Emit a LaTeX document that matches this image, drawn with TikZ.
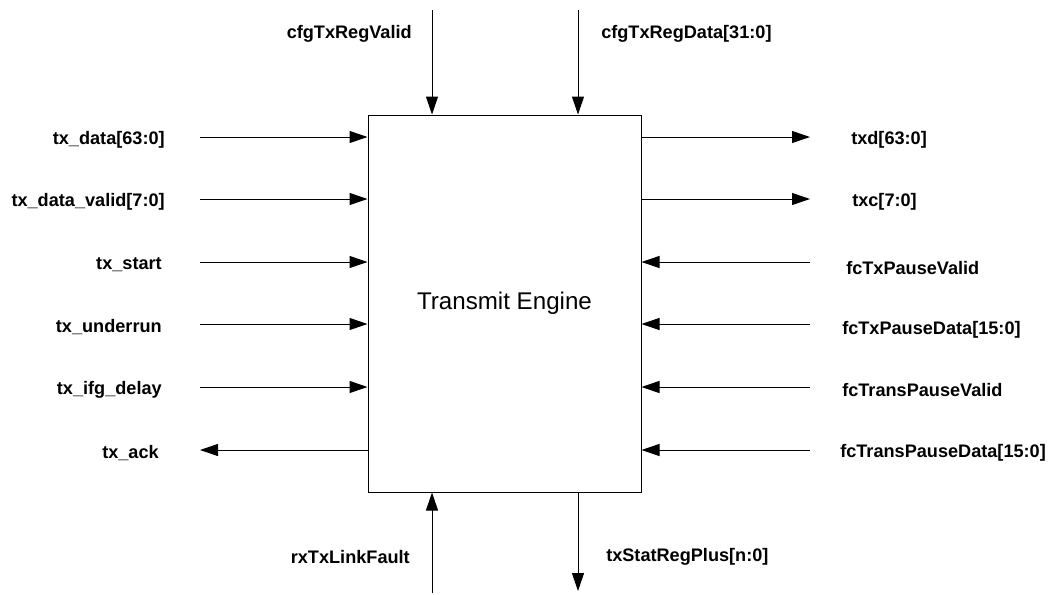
\documentclass[tikz,border=0pt]{standalone}
\usepackage{fontspec}
\setmainfont{Liberation Sans}
\usetikzlibrary{arrows.meta}

\begin{document}
\begin{tikzpicture}[x=0.75pt,y=0.75pt,yscale=-1,xscale=1,
  sig/.style={line width=0.75pt, -{Triangle[length=13.5pt,width=9pt]}},
  lbl/.style={font=\fontsize{13.6}{16}\selectfont\bfseries, inner sep=0.75pt}]
\useasboundingbox (0,0) rectangle (1054,594);

%Shape: Rectangle [id:engine] 
\node (eng) [draw, line width=0.75pt, minimum width=204.75pt, minimum height=282.75pt, inner sep=0pt, font=\fontsize{18.1}{21}\selectfont] at (504.5,303.5) {Transmit Engine};

%Straight Lines [id:left side] 
\coordinate (inData) at (200,137);
\coordinate (inValid) at (200,199);
\coordinate (inStart) at (200,262);
\coordinate (inUnder) at (200,324);
\coordinate (inIfg) at (200,387);
\coordinate (outAck) at (200,450);
\draw [sig] (inData) -- (inData -| eng.west);
\draw [sig] (inValid) -- (inValid -| eng.west);
\draw [sig] (inStart) -- (inStart -| eng.west);
\draw [sig] (inUnder) -- (inUnder -| eng.west);
\draw [sig] (inIfg) -- (inIfg -| eng.west);
\draw [sig] (outAck -| eng.west) -- (outAck);

%Straight Lines [id:right side] 
\coordinate (outTxd) at (810,137);
\coordinate (outTxc) at (810,199);
\coordinate (inPauseValid) at (810,262);
\coordinate (inPauseData) at (810,324);
\coordinate (inTransValid) at (810,387);
\coordinate (inTransData) at (810,450);
\draw [sig] (outTxd -| eng.east) -- (outTxd);
\draw [sig] (outTxc -| eng.east) -- (outTxc);
\draw [sig] (inPauseValid) -- (inPauseValid -| eng.east);
\draw [sig] (inPauseData) -- (inPauseData -| eng.east);
\draw [sig] (inTransValid) -- (inTransValid -| eng.east);
\draw [sig] (inTransData) -- (inTransData -| eng.east);

%Straight Lines [id:top and bottom] 
\coordinate (inCfgValid) at (432,10);
\coordinate (inCfgData) at (578,10);
\coordinate (inLinkFault) at (432,593);
\coordinate (outStat) at (578,591);
\draw [sig] (inCfgValid) -- (inCfgValid |- eng.north);
\draw [sig] (inCfgData) -- (inCfgData |- eng.north);
\draw [sig] (inLinkFault) -- (inLinkFault |- eng.south);
\draw [sig] (outStat |- eng.south) -- (outStat);

% Text Node
\draw (166,140) node [anchor=east][lbl] (lblData) {tx\_data[63:0]};
% Text Node
\draw (166,202) node [anchor=east][lbl] (lblValid) {tx\_data\_valid[7:0]};
% Text Node
\draw (163,265) node [anchor=east][lbl] (lblStart) {tx\_start};
% Text Node
\draw (163,327) node [anchor=east][lbl] (lblUnder) {tx\_underrun};
% Text Node
\draw (163,390) node [anchor=east][lbl] (lblIfg) {tx\_ifg\_delay};
% Text Node
\draw (160,453) node [anchor=east][lbl] (lblAck) {tx\_ack};
% Text Node
\draw (850,140) node [anchor=west][lbl] (lblTxd) {txd[63:0]};
% Text Node
\draw (851,202) node [anchor=west][lbl] (lblTxc) {txc[7:0]};
% Text Node
\draw (845,268) node [anchor=west][lbl] (lblPauseValid) {fcTxPauseValid};
% Text Node
\draw (841,330) node [anchor=west][lbl] (lblPauseData) {fcTxPauseData[15:0]};
% Text Node
\draw (841,390) node [anchor=west][lbl] (lblTransValid) {fcTransPauseValid};
% Text Node
\draw (839,453) node [anchor=west][lbl] (lblTransData) {fcTransPauseData[15:0]};
% Text Node
\draw (413,34) node [anchor=east][lbl] (lblCfgValid) {cfgTxRegValid};
% Text Node
\draw (600,34) node [anchor=west][lbl] (lblCfgData) {cfgTxRegData[31:0]};
% Text Node
\draw (411,557) node [anchor=east][lbl] (lblLinkFault) {rxTxLinkFault};
% Text Node
\draw (605,557) node [anchor=west][lbl] (lblStat) {txStatRegPlus[n:0]};

\end{tikzpicture}
\end{document}
